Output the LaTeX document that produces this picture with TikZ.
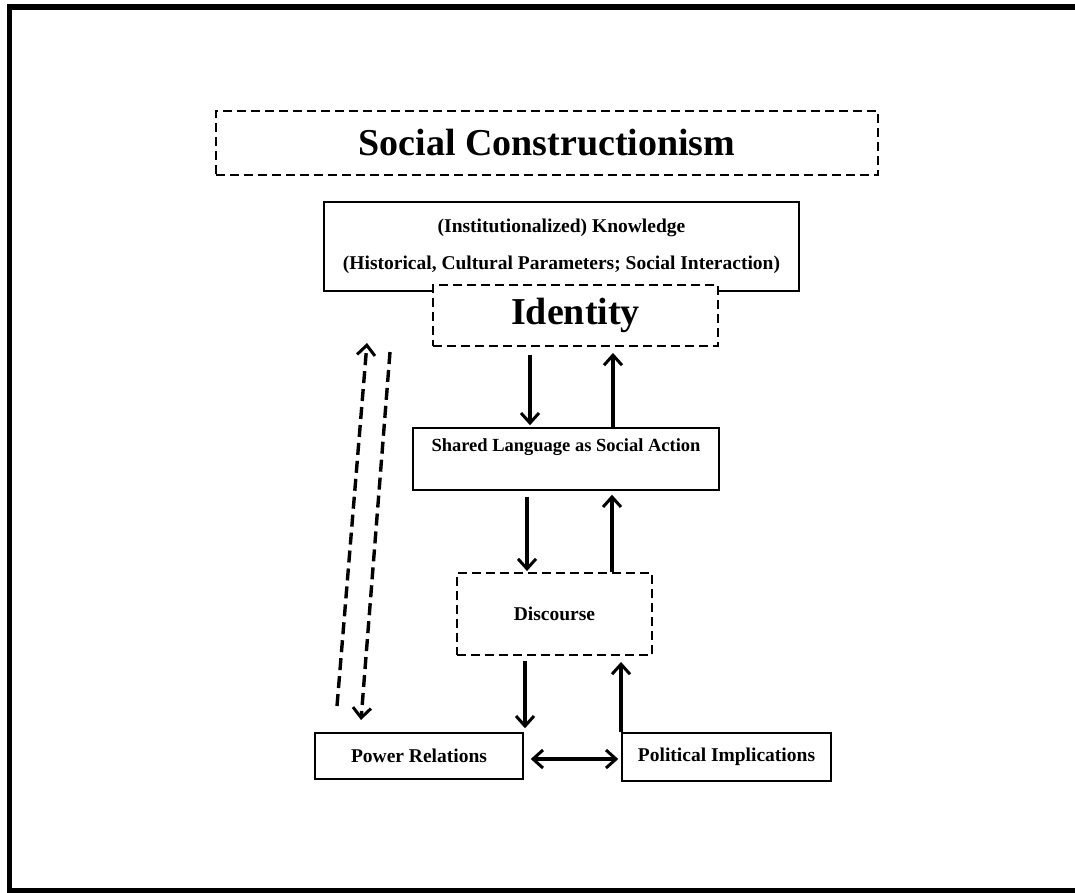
\documentclass[tikz,border=0pt]{standalone}
\usepackage{fontspec}
\setmainfont{Liberation Serif}
\usetikzlibrary{arrows.meta}

\begin{document}
\begin{tikzpicture}[
    x=1pt, y=-1pt,
    >={Straight Barb[length=10pt,width=18pt,line width=3pt]},
    solidbox/.style={draw, line width=1.5pt, fill=white, inner sep=0pt},
    dashbox/.style={draw, line width=1.9pt, dash pattern=on 9pt off 5pt, fill=white, inner sep=0pt},
    arr/.style={->, line width=3.2pt},
    dasharr/.style={->, line width=3.4pt, dash pattern=on 12pt off 6pt},
    small/.style={font=\fontsize{19.5}{22}\selectfont\bfseries},
    big/.style={font=\fontsize{38}{42}\selectfont\bfseries},
]
\useasboundingbox (0,0) rectangle (1075,892);

% Outer frame
\draw[line width=5.5pt] (9.5,7) rectangle (1077.5,890.5);

% Title
\node[dashbox, big, minimum width=662pt, minimum height=64pt] (title) at (547,143) {Social Constructionism};

% Knowledge box
\node[solidbox, small, align=center, minimum width=475pt, minimum height=89pt] (know) at (561.5,246.5)
    {(Institutionalized) Knowledge\\[15pt](Historical, Cultural Parameters; Social Interaction)};

% Identity box (sits over the knowledge box)
\node[dashbox, big, minimum width=285pt, minimum height=61pt] (ident) at (575.5,315.5) {Identity};

% Shared language
\node[solidbox, minimum width=306pt, minimum height=62pt] (lang) at (566,459) {};
\node[font=\fontsize{18.5}{21}\selectfont\bfseries] (langtxt) at ([yshift=-20pt]lang.north) {Shared Language as Social Action};

% Discourse
\node[dashbox, small, minimum width=195pt, minimum height=82pt] (disc) at (554.5,614) {Discourse};

% Bottom row
\node[solidbox, small, minimum width=208pt, minimum height=46pt] (power) at (419,756) {Power Relations};
\node[solidbox, small, minimum width=209pt, minimum height=48pt] (pol) at (726.5,757) {Political Implications};

% Vertical arrows
\draw[arr, shorten <=8pt, shorten >=2pt] ([xshift=-45.5pt]ident.south) -- ([xshift=-45.5pt]ident.south |- lang.north);
\draw[arr, shorten >=6pt] ([xshift=47pt]lang.north) -- ([xshift=47pt]lang.north |- ident.south);
\draw[arr, shorten <=6pt, shorten >=1pt] ([xshift=-39pt]lang.south) -- ([xshift=-39pt]lang.south |- disc.north);
\draw[arr, shorten >=4pt] ([xshift=57.5pt]disc.north) -- ([xshift=57.5pt]disc.north |- lang.south);
\draw[arr, shorten <=5pt, shorten >=4pt] ([xshift=-29.5pt]disc.south) -- ([xshift=-29.5pt]disc.south |- power.north);
\draw[arr, shorten >=6pt] ([xshift=-105.5pt]pol.north) -- ([xshift=-105.5pt]pol.north |- disc.south);

% Horizontal double arrow
\draw[<->, line width=3.2pt, shorten <=7pt, shorten >=3pt] ([yshift=-3pt]power.east) -- ([yshift=-3pt]power.east -| pol.west);

% Dashed feedback arrows
\coordinate (upfrom) at (337,706);
\coordinate (upto) at (367,343);
\coordinate (downfrom) at (390,352);
\coordinate (downto) at (361,720);
\draw[dasharr] (upfrom) -- (upto);
\draw[dasharr] (downfrom) -- (downto);
\end{tikzpicture}
\end{document}
